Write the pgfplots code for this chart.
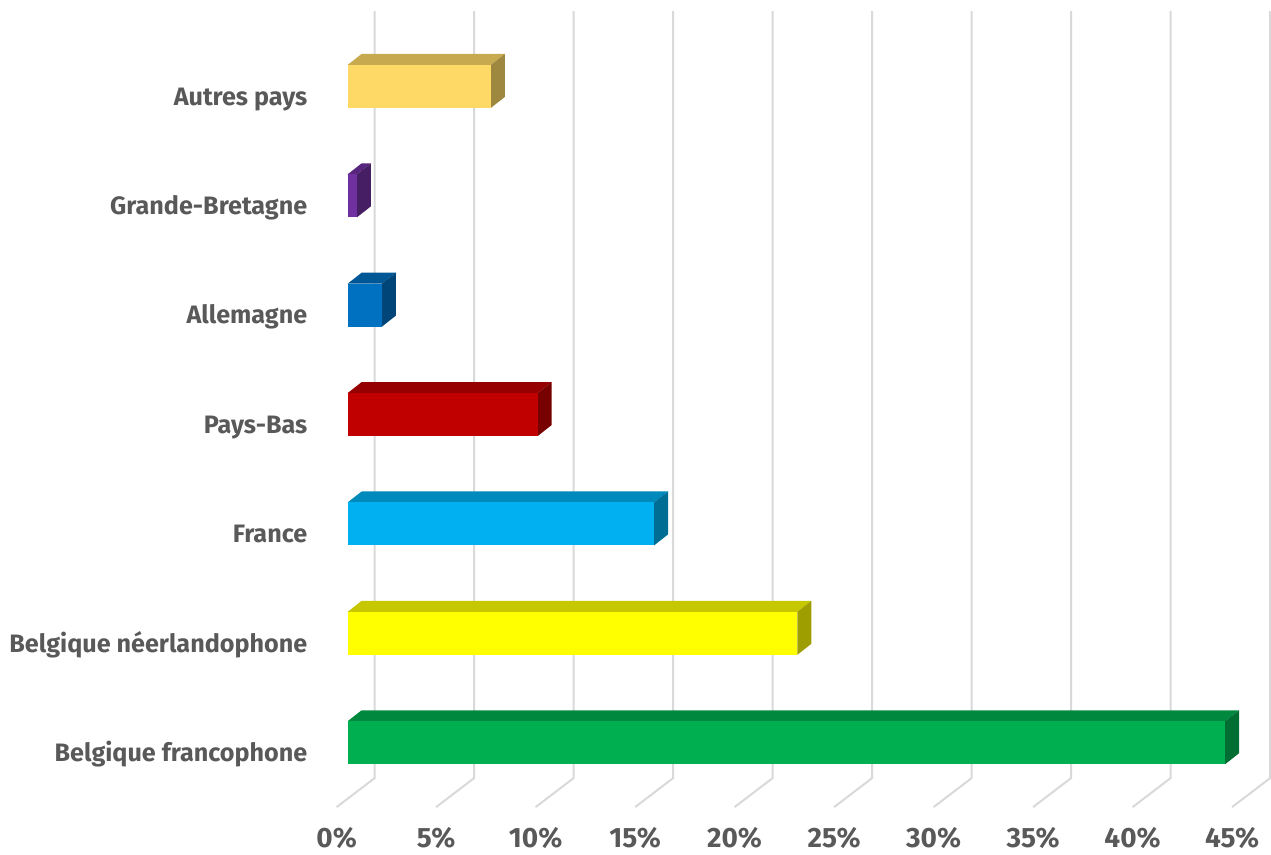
\documentclass[border=0pt]{standalone}
\usepackage{pgfplots}
\pgfplotsset{compat=1.18}
\usepackage{fontspec}
\setmainfont{Fira Sans}
\definecolor{txt}{HTML}{595959}
\definecolor{gridc}{HTML}{D9D9D9}
\definecolor{cGold}{HTML}{FFD966}
\definecolor{cPurple}{HTML}{7030A0}
\definecolor{cBlue}{HTML}{0070C0}
\definecolor{cRed}{HTML}{C00000}
\definecolor{cCyan}{HTML}{00B0F0}
\definecolor{cYellow}{HTML}{FFFF00}
\definecolor{cGreen}{HTML}{00B050}
% 3D bar: #1 position, #2 value, #3 front colour
\newcommand\tdbar[3]{%
  \pgfmathsetmacro\lo{#1-0.19635}%
  \pgfmathsetmacro\hi{#1+0.19635}%
  \pgfmathsetmacro\hii{#1+0.19635+0.10046}%
  \pgfmathsetmacro\loo{#1-0.19635+0.10046}%
  \pgfmathsetmacro\vv{#2+0.7028}%
  \edef\temp{%
  \noexpand\addplot[fill=#3!78!black, draw=none] coordinates {(0,\hi) (#2,\hi) (\vv,\hii) (0.7028,\hii)} -- cycle;
  \noexpand\addplot[fill=#3!62!black, draw=none] coordinates {(#2,\lo) (\vv,\loo) (\vv,\hii) (#2,\hi)} -- cycle;
  \noexpand\addplot[xbar, bar shift=0pt, bar width=21.5pt, fill=#3, draw=none] coordinates {(#2,#1)};}%
  \temp
}
\begin{document}
\begin{tikzpicture}
\begin{axis}[
  x=9.96pt, y=54.75pt,
  xmin=0, xmax=45, ymin=-0.512, ymax=6.501,
  clip=false,
  axis line style={draw=none},
  major tick length=0pt,
  tick style={draw=none},
  xtick={0,5,...,45},
  xticklabels={0\%,5\%,10\%,15\%,20\%,25\%,30\%,35\%,40\%,45\%},
  ytick={0,...,6},
  yticklabels={Belgique francophone,Belgique néerlandophone,France,Pays-Bas,Allemagne,Grande-Bretagne,Autres pays},
  xticklabel style={anchor=base, inner sep=0pt, xshift=-5.5pt, yshift=-24.6pt, font=\fontsize{14}{16}\selectfont\bfseries, text=txt},
  yticklabel style={anchor=base east, inner sep=0pt, xshift=-20pt, yshift=-9.4pt, font=\fontsize{12.6}{14}\selectfont\bfseries, text=txt},
]
% page extent
\path ([xshift=-174pt,yshift=399.8pt]axis cs:0,-0.512) rectangle ([xshift=461.5pt,yshift=-27.7pt]axis cs:0,-0.512);
% gridlines: floor diagonals and back wall verticals
\pgfplotsinvokeforeach{0,5,...,45}{
  \draw[gridc, line width=1pt] ([xshift=-5.5pt,yshift=-4.2pt]axis cs:#1,-0.512) -- ([xshift=13.5pt,yshift=10.3pt]axis cs:#1,-0.512) -- ([xshift=13.5pt,yshift=10.3pt]axis cs:#1,6.501);
}
\tdbar{0}{44.1}{cGreen}
\tdbar{1}{22.6}{cYellow}
\tdbar{2}{15.4}{cCyan}
\tdbar{3}{9.55}{cRed}
\tdbar{4}{1.72}{cBlue}
\tdbar{5}{0.47}{cPurple}
\tdbar{6}{7.2}{cGold}
\end{axis}
\end{tikzpicture}
\end{document}
